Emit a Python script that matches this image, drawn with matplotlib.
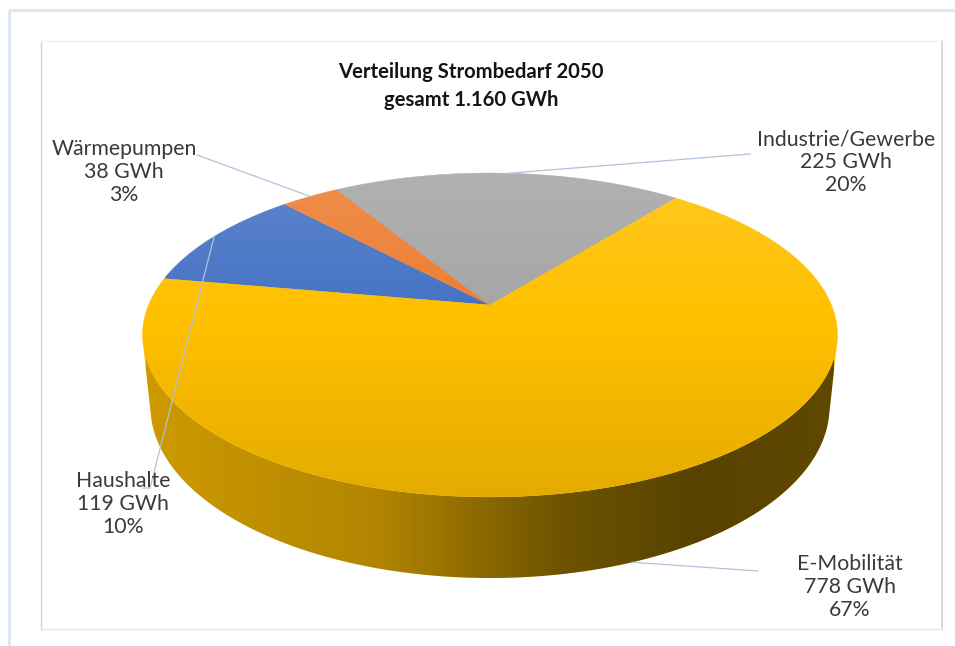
import numpy as np
import matplotlib
matplotlib.use("Agg")
import matplotlib.pyplot as plt
from matplotlib.patches import Polygon, Rectangle

# data (series order as in the source sheet)
labels = ["Haushalte", "Wärmepumpen", "Industrie/Gewerbe", "E-Mobilität"]
values = [119, 38, 225, 778]          # GWh
percents = ["10%", "3%", "20%", "67%"]
colors = ["#4472c4", "#ed7d31", "#a5a5a5", "#ffc000"]
title = "Verteilung Strombedarf 2050\ngesamt 1.160 GWh"

# label placement (pixel coords) and where the leader line meets the label
label_pos = [(123, 504), (124, 172), (846, 162), (850, 587)]
leader_end = [(150, 488), (197, 155), (750, 154), (758, 571)]
leader_hook = [8, 0, 0, 0]
leader_on_side = [False, False, False, True]

# 3d view of the pie
CX, CY = 490, 305        # pie centre in pixels
F = 1639.0               # focal length
D = 4.80                 # camera distance (radius = 1)
TILT = np.radians(27.26)
S, C = np.sin(TILT), np.cos(TILT)
H = 0.238                # thickness
START = 170.0            # start angle of first slice (deg, ccw from east)


def proj(theta, h=0.0, r=1.0):
    x = r * np.cos(theta)
    y = r * np.sin(theta)
    up = y * S + h * C
    depth = D + y * C - h * S
    return CX + F * x / depth, CY - F * up / depth


fig = plt.figure(figsize=(9.55, 6.46), dpi=100)
ax = fig.add_axes([0, 0, 1, 1])
ax.set_xlim(0, 955)
ax.set_ylim(646, 0)
ax.axis("off")

# frames
ax.add_patch(Rectangle((9, 10), 960, 660, fill=False, ec="#dbe8f6", lw=2.2))
ax.plot([41, 41], [41, 629], color="#d2d2d2", lw=1.0)
ax.plot([942, 942], [41, 629], color="#d2d2d2", lw=1.2)
ax.plot([41, 942], [41, 41], color="#f1f1f1", lw=1.0)
ax.plot([41, 942], [629, 629], color="#e6e6e6", lw=1.0)

total = sum(values)
cum = np.concatenate([[0], np.cumsum(values)])
t0 = np.radians(START - 360.0 * cum[:-1] / total)
t1 = np.radians(START - 360.0 * cum[1:] / total)

# visible part of the rim (tangent generators seen from the camera)
phi_t = np.arcsin(1.0 / (D * C))
vis_lo, vis_hi = -np.pi + phi_t, -phi_t

# side walls
for a0, a1, col in zip(t0, t1, colors):
    hi, lo = a0, a1
    for k in (-1, 0, 1):
        l = max(lo, vis_lo + 2 * np.pi * k)
        h_ = min(hi, vis_hi + 2 * np.pi * k)
        if h_ <= l:
            continue
        th = np.linspace(l, h_, 200)
        xt, yt = proj(th, 0.0)
        xb, yb = proj(th[::-1], -H)
        pts = np.column_stack([np.concatenate([xt, xb]), np.concatenate([yt, yb])])
        side = Polygon(pts, closed=True, fc=col, ec="none", zorder=2)
        ax.add_patch(side)
        # horizontal shading of the wall
        gx = np.linspace(0, 1, 300)
        alpha = np.interp(gx, [0.0, 0.34, 0.6, 0.8, 1.0], [0.2, 0.31, 0.57, 0.66, 0.63])
        shade = np.zeros((1, 300, 4))
        shade[..., 3] = alpha
        xmin = proj(np.array([vis_lo - 0.2]))[0][0]
        xmax = proj(np.array([vis_hi + 0.2]))[0][0]
        im = ax.imshow(shade, extent=[xmin, xmax, 600, 300], aspect="auto",
                       interpolation="bilinear", zorder=3)
        im.set_clip_path(side)

# top faces
for a0, a1, col in zip(t0, t1, colors):
    th = np.linspace(a0, a1, 200)
    xs, ys = proj(th, 0.0)
    pts = np.column_stack([np.concatenate([[CX], xs]), np.concatenate([[CY], ys])])
    ax.add_patch(Polygon(pts, closed=True, fc=col, ec=col, lw=0.3, zorder=4))

# soft vertical light on the top face
th = np.linspace(0, 2 * np.pi, 400)
xs, ys = proj(th, 0.0)
top = Polygon(np.column_stack([xs, ys]), closed=True, fc="none", ec="none", zorder=5)
ax.add_patch(top)
gy = np.linspace(0, 1, 300)
light = np.zeros((300, 1, 4))
wa = np.interp(gy, [0, 0.45, 1], [0.14, 0.0, 0.0])
ba = np.interp(gy, [0, 0.45, 1], [0.0, 0.0, 0.11])
light[:, 0, :3] = (wa / np.maximum(wa + ba, 1e-6))[:, None]
light[:, 0, 3] = wa + ba
im = ax.imshow(light, extent=[xs.min(), xs.max(), ys.max(), ys.min()], aspect="auto",
               interpolation="bilinear", zorder=5)
im.set_clip_path(top)

# labels and leader lines
tc = "#3a3a3a"
for i in range(len(values)):
    mid = 0.5 * (t0[i] + t1[i])
    if leader_on_side[i]:
        ax_, ay_ = proj(np.array([mid]), -H)
    else:
        ax_, ay_ = proj(np.array([mid]), 0.0)
    ex, ey = leader_end[i]
    ax.plot([ax_[0], ex, ex - leader_hook[i]], [ay_[0], ey, ey],
            color="#b0c2dc", lw=0.9, zorder=6)
    txt = f"{labels[i]}\n{values[i]} GWh\n{percents[i]}"
    ax.text(label_pos[i][0], label_pos[i][1], txt, ha="center", va="center",
            fontsize=15.3, family="Lato", color=tc, linespacing=1.18, zorder=7)

ax.text(471, 86, title, ha="center", va="center", fontsize=14.6, family="Lato",
        fontweight="bold", color="#141414", linespacing=1.45)

fig.savefig("out.png", dpi=100)
